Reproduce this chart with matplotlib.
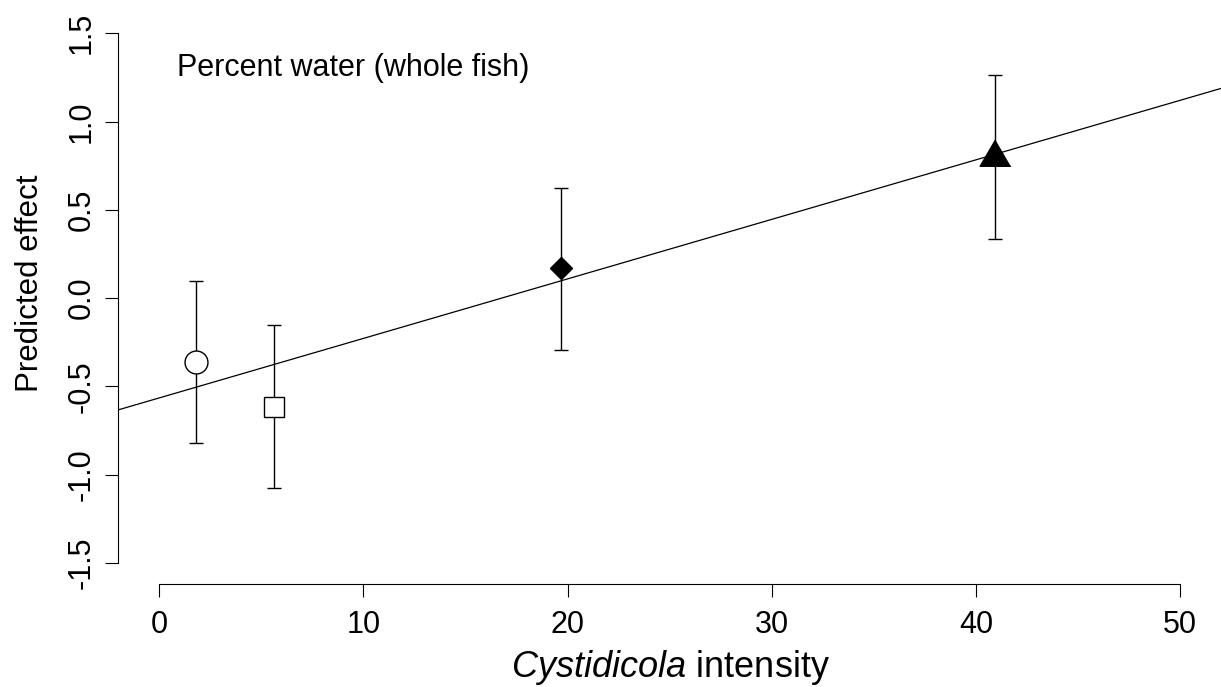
import matplotlib
matplotlib.use("Agg")
import matplotlib.pyplot as plt
import numpy as np

plt.rcParams['font.family'] = ['Liberation Sans', 'DejaVu Sans']
plt.rcParams['mathtext.fontset'] = 'custom'
plt.rcParams['mathtext.rm'] = 'Liberation Sans'
plt.rcParams['mathtext.it'] = 'Liberation Sans:italic'

# punkte (intensitaet, effekt, untere / obere grenze)
intensity = [1.81, 5.64, 19.67, 40.95]
effect = [-0.361, -0.616, 0.168, 0.798]
lower = [-0.819, -1.074, -0.291, 0.336]
upper = [0.096, -0.151, 0.625, 1.261]
markers = ['o', 's', 'D', 'tri']
filled = [False, False, True, True]

# regressionsgerade
intercept = -0.565
slope = 0.0337

xticks = [0, 10, 20, 30, 40, 50]
yticks = [-1.5, -1.0, -0.5, 0.0, 0.5, 1.0, 1.5]

W, H = 1221, 687
fig = plt.figure(figsize=(W / 100, H / 100), dpi=100)
ax = fig.add_axes([118.3 / W, 1 - 584.3 / H, 1 - 118.3 / W, (584.3 - 12) / H])
ax.set_xlim(-2, 52)
ax.set_ylim(-1.62, 1.62)

# gerade ueber den ganzen plotbereich
xl = np.array(ax.get_xlim())
ax.plot(xl, intercept + slope * xl, color='black', lw=0.9, zorder=2)

tri = [(0, 17.6), (-15.35, -8.8), (15.35, -8.8)]
sizes = {'o': 16.5, 's': 14.9, 'D': 11.0, 'tri': 25.3}
for i in range(len(intensity)):
    err = [[effect[i] - lower[i]], [upper[i] - effect[i]]]
    ax.errorbar(intensity[i], effect[i], yerr=err, fmt='none', ecolor='black',
                elinewidth=1.0, capsize=5, capthick=1.0, zorder=3)
    m = tri if markers[i] == 'tri' else markers[i]
    fc = 'black' if filled[i] else 'white'
    ax.plot(intensity[i], effect[i], marker=m, markersize=sizes[markers[i]],
            markerfacecolor=fc, markeredgecolor='black', markeredgewidth=1.0,
            linestyle='none', zorder=4)

for s in ['top', 'right']:
    ax.spines[s].set_visible(False)
ax.spines['left'].set_bounds(-1.5, 1.5)
ax.spines['bottom'].set_bounds(0, 50)
ax.spines['left'].set_linewidth(0.8)
ax.spines['bottom'].set_linewidth(0.8)

ax.set_xticks(xticks)
ax.set_xticklabels([str(v) for v in xticks])
ax.set_yticks(yticks)
ax.set_yticklabels(['%.1f' % v for v in yticks])
ax.tick_params(axis='both', length=9.4, width=0.8, labelsize=22)
ax.tick_params(axis='x', pad=9)
ax.tick_params(axis='y', labelrotation=90, pad=6)
for t in ax.get_yticklabels():
    t.set_va('center')

ax.text(0.88, 1.257, 'Percent water (whole fish)', fontsize=22,
        ha='left', va='baseline')

fig.text(30 / W, 1 - 283 / H, 'Predicted effect', rotation=90, fontsize=22.5,
         ha='center', va='center')
fig.text(671 / W, 1 - 677 / H, r'$\it{Cystidicola}$ intensity', fontsize=26,
         ha='center', va='baseline')

fig.savefig('out.png', dpi=100)
